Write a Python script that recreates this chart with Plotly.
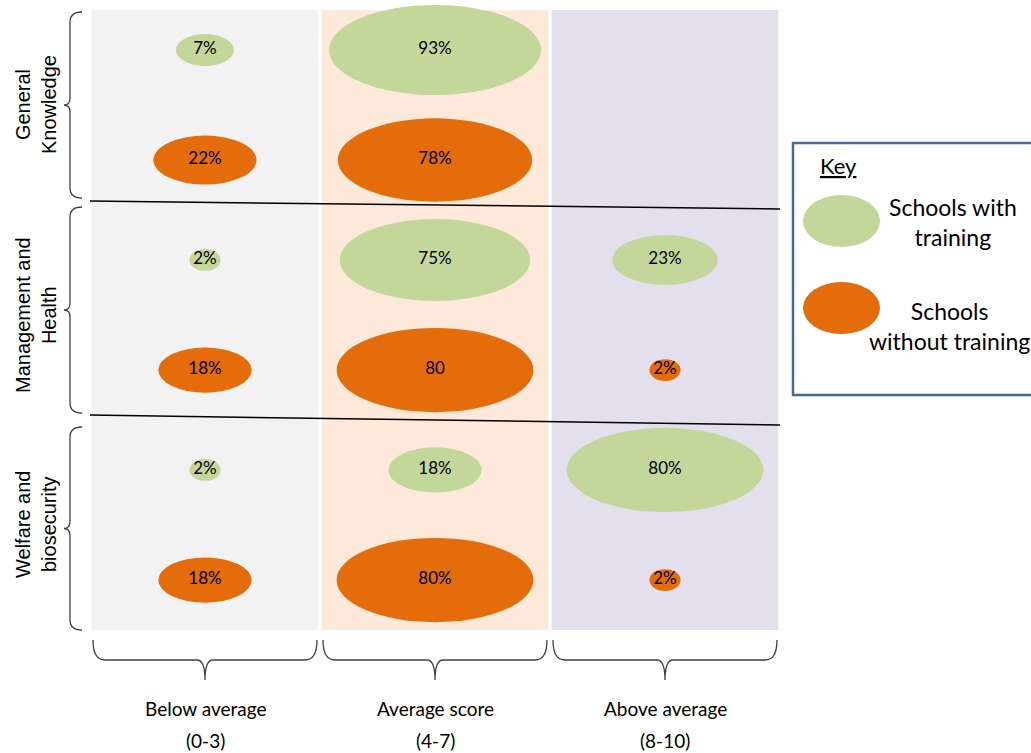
import numpy as np
import plotly.graph_objects as go

# ---------------- data ----------------
topics = ["General<br>Knowledge", "Management and<br>Health", "Welfare and<br>biosecurity"]
band_names = ["Below average", "Average score", "Above average"]
band_ranges = ["(0-3)", "(4-7)", "(8-10)"]
with_training = [[7, 93, 0], [2, 75, 23], [2, 18, 80]]
without_training = [[22, 78, 0], [18, 80, 2], [18, 80, 2]]
with_labels = [["7%", "93%", ""], ["2%", "75%", "23%"], ["2%", "18%", "80%"]]
without_labels = [["22%", "78%", ""], ["18%", "80", "2%"], ["18%", "80%", "2%"]]
key_labels = ["Schools with<br>training", "Schools<br>without training"]

# ---------------- styles / layout ----------------
W, H = 1031, 753
X0, XS = 205, 230   # pixel of column 0, pixel spacing of columns
Y0, YS = 105, 210   # pixel of row 0, pixel spacing of rows
GREEN, ORANGE = "#C4D79B", "#E46C0A"
BANDS = ["#F2F2F2", "#FDE9D9", "#E4DFEC"]
OFF = 0.262


def dx(p):
    return (p - X0) / XS


def dy(p):
    return (p - Y0) / YS


shapes = []
# column bands
for c, col in enumerate(BANDS):
    shapes.append(dict(type="rect", xref="x", yref="y", x0=c - 0.5 + 0.007, x1=c + 0.5 - 0.007,
                       y0=dy(10), y1=dy(630), fillcolor=col, line=dict(width=0), layer="below"))

# ellipses
xs, ys, txt = [], [], []
for r in range(len(topics)):
    for c in range(len(band_names)):
        for vals, labs, off, colr in ((with_training, with_labels, -OFF, GREEN),
                                      (without_training, without_labels, OFF, ORANGE)):
            v = vals[r][c]
            if v <= 0:
                continue
            wpx = 22 * np.sqrt(v)
            hpx = 10 + 8.3 * np.sqrt(v)
            cy = r + off
            shapes.append(dict(type="circle", xref="x", yref="y",
                               x0=c - wpx / 2 / XS, x1=c + wpx / 2 / XS,
                               y0=cy - hpx / 2 / YS, y1=cy + hpx / 2 / YS,
                               fillcolor=colr, line=dict(width=0), layer="below"))
            xs.append(c)
            ys.append(cy)
            txt.append(labs[r][c])

# separator lines
for (yl, yr) in ((201, 209), (415, 425)):
    shapes.append(dict(type="line", xref="x", yref="y", x0=dx(90), x1=dx(780), y0=dy(yl), y1=dy(yr),
                       line=dict(color="black", width=1.5)))

BR = dict(color="#404040", width=1.3)


def P(x, y):
    return f"{dx(x):.5f},{dy(y):.5f}"


# vertical braces (left)
for (t, b) in ((12, 198), (207, 413), (427, 630)):
    m = (t + b) / 2
    xr, xsp, xt = 82, 70, 64
    path = (f"M {P(xr, t)} Q {P(xsp, t)} {P(xsp, t + 10)} L {P(xsp, m - 7)} "
            f"Q {P(xsp, m)} {P(xt, m)} Q {P(xsp, m)} {P(xsp, m + 7)} "
            f"L {P(xsp, b - 10)} Q {P(xsp, b)} {P(xr, b)}")
    shapes.append(dict(type="path", xref="x", yref="y", path=path, line=BR))

# horizontal braces (bottom)
for c in range(3):
    cx = X0 + c * XS
    l, rr = cx - 112, cx + 112
    yt, ysp, ytip = 640, 660, 680
    path = (f"M {P(l, yt)} Q {P(l, ysp)} {P(l + 12, ysp)} L {P(cx - 8, ysp)} "
            f"Q {P(cx, ysp)} {P(cx, ytip)} Q {P(cx, ysp)} {P(cx + 8, ysp)} "
            f"L {P(rr - 12, ysp)} Q {P(rr, ysp)} {P(rr, yt)}")
    shapes.append(dict(type="path", xref="x", yref="y", path=path, line=BR))

# key box
shapes.append(dict(type="rect", xref="paper", yref="paper", x0=793 / W, x1=1045 / W,
                   y0=1 - 395 / H, y1=1 - 143 / H, fillcolor="white",
                   line=dict(color="#4A6A93", width=2.5)))
for (cy, colr) in ((221, GREEN), (308, ORANGE)):
    shapes.append(dict(type="circle", xref="paper", yref="paper", x0=803 / W, x1=880 / W,
                       y0=1 - (cy + 26) / H, y1=1 - (cy - 26) / H, fillcolor=colr, line=dict(width=0)))

annotations = []
for r, t in enumerate(topics):
    annotations.append(dict(x=dx(36), y=r, xref="x", yref="y", text=t, textangle=-90,
                            xanchor="center", yanchor="middle",
                            showarrow=False, font=dict(family="Liberation Sans", size=20, color="black"),
                            align="center"))
for c in range(3):
    annotations.append(dict(x=c, y=dy(708), xref="x", yref="y", text=band_names[c], showarrow=False,
                            xanchor="center", yanchor="middle",
                            font=dict(family="Lato", size=19, color="black")))
    annotations.append(dict(x=c, y=dy(740), xref="x", yref="y", text=band_ranges[c], showarrow=False,
                            xanchor="center", yanchor="middle",
                            font=dict(family="Lato", size=19, color="black")))

annotations.append(dict(x=838 / W, y=1 - 165 / H, xref="paper", yref="paper", text="<u>Key</u>",
                        xanchor="center", yanchor="middle",
                        showarrow=False, font=dict(family="Lato", size=22, color="black")))
annotations.append(dict(x=953 / W, y=1 - 222 / H, xref="paper", yref="paper", text=key_labels[0],
                        xanchor="center", yanchor="middle",
                        showarrow=False, align="center", font=dict(family="Lato", size=23, color="black")))
annotations.append(dict(x=949 / W, y=1 - 326 / H, xref="paper", yref="paper", text=key_labels[1],
                        xanchor="center", yanchor="middle",
                        showarrow=False, align="center", font=dict(family="Lato", size=23, color="black")))

fig = go.Figure()
fig.add_trace(go.Scatter(x=xs, y=ys, mode="text", text=txt,
                         textfont=dict(family="Lato", size=17, color="black"),
                         hoverinfo="skip", showlegend=False, cliponaxis=False))

fig.update_layout(
    width=W, height=H, margin=dict(l=0, r=0, t=0, b=0),
    paper_bgcolor="white", plot_bgcolor="white",
    xaxis=dict(range=[dx(0), dx(W)], visible=False, fixedrange=True),
    yaxis=dict(range=[dy(H), dy(0)], visible=False, fixedrange=True),
    shapes=shapes, annotations=annotations, showlegend=False,
)
fig.write_html("out.html")
